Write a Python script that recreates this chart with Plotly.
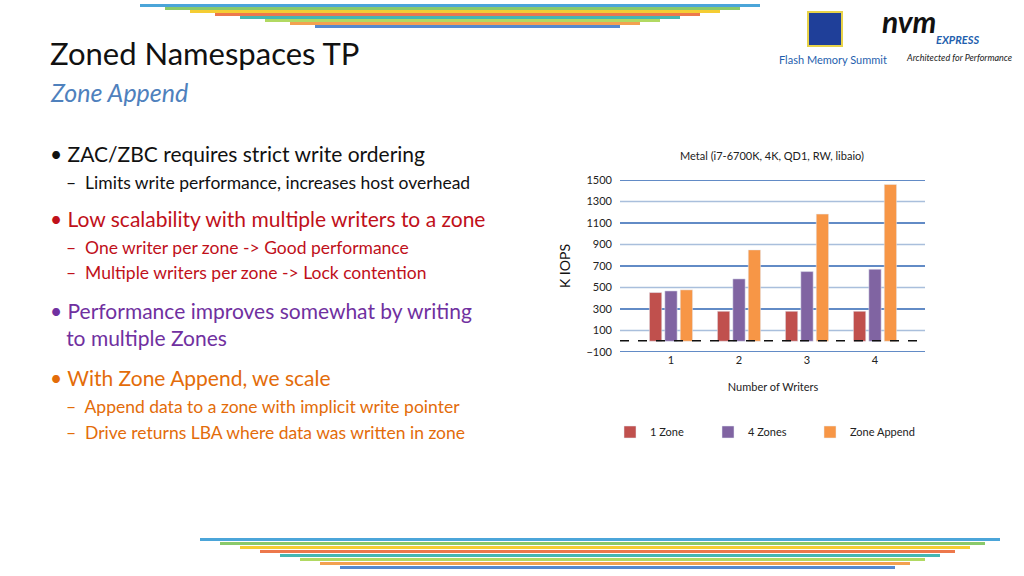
import plotly.graph_objects as go

writers = ["1", "2", "3", "4"]
one_zone = [453, 279, 279, 279]
four_zones = [468, 580, 648, 670]
zone_append = [478, 850, 1183, 1459]
tick_vals = [-100, 100, 300, 500, 700, 900, 1100, 1300, 1500]

F = "Lato, Open Sans, sans-serif"
fig = go.Figure()
legx = [610, 708, 810]
for j, (name, vals, col) in enumerate([("1 Zone", one_zone, "#c0504d"), ("4 Zones", four_zones, "#8064a2"), ("Zone Append", zone_append, "#f79646")]):
    lg = "legend" if j == 0 else f"legend{j+1}"
    fig.add_bar(x=writers, y=vals, name=name, marker_color=col, legend=lg)
    fig.update_layout({lg: dict(x=legx[j]/1024, y=(576-432)/576, yanchor="middle", xanchor="left",
                                font=dict(size=11), itemwidth=30, bgcolor="rgba(0,0,0,0)")})

PX0, PX1 = 620, 925
fig.update_layout(
    width=1024, height=576, paper_bgcolor="white", plot_bgcolor="white",
    margin=dict(l=0, r=0, t=0, b=0, autoexpand=False), barmode="group", bargap=0.32, bargroupgap=0.2,
    font=dict(family=F, size=11, color="#222"),
    xaxis=dict(domain=[637/1024, 909/1024], showline=False, ticks="", tickfont=dict(size=11), automargin=False,
               title=dict(text="Number of Writers", font=dict(size=11), standoff=18)),
    yaxis=dict(domain=[(576-352)/576, (576-180)/576], range=[-100, 1500], tickvals=tick_vals, automargin=False,
               showgrid=False, zeroline=False, tickfont=dict(size=11), ticklabelstandoff=24,
               title=dict(text="K IOPS", font=dict(size=14, color="#111"), standoff=12)),
    showlegend=True,
)
for i, v in enumerate(tick_vals):
    fig.add_shape(type="line", xref="paper", yref="y", x0=PX0/1024, x1=PX1/1024, y0=v, y1=v,
                  line=dict(color="#2e64b3" if i % 2 == 0 else "#a9bfdc", width=1.3), layer="below")
fig.add_shape(type="line", xref="paper", yref="y", x0=PX0/1024, x1=PX1/1024, y0=5, y1=5,
              line=dict(color="#111", width=1.5, dash="dash"))

ann = []
def t(x, y, s, size, color="#111", **kw):
    ann.append(dict(x=x/1024, y=1-y/576, xref="paper", yref="paper", text=s, showarrow=False,
                    xanchor="left", yanchor="middle", font=dict(size=size, color=color, family=F), **kw))

ann.append(dict(x=772/1024, y=1-156/576, xref="paper", yref="paper", text="Metal (i7-6700K, 4K, QD1, RW, libaio)",
                showarrow=False, xanchor="center", yanchor="middle", font=dict(size=11, color="#222", family=F)))
t(48, 53, "Zoned Namespaces TP", 31)
t(48, 92, "<i>Zone Append</i>", 25, "#4f81bd")
B, S = 21, 17.5
t(48, 153, "• ZAC/ZBC requires strict write ordering", B)
t(64, 182, "–  Limits write performance, increases host overhead", S)
red = "#c0101a"
t(48, 218, "• Low scalability with multiple writers to a zone", B, red)
t(64, 247, "–  One writer per zone -> Good performance", S, red)
t(64, 273, "–  Multiple writers per zone -> Lock contention", S, red)
pur = "#7030a0"
t(48, 324, "• Performance improves somewhat by writing<br>   to multiple Zones", B, pur, align="left")
org = "#e36c09"
t(48, 377, "• With Zone Append, we scale", B, org)
t(64, 406, "–  Append data to a zone with implicit write pointer", S, org)
t(64, 432, "–  Drive returns LBA where data was written in zone", S, org)
t(777, 60, "Flash Memory Summit", 11, "#1f5fae")
t(880, 21, "<b><i>nvm</i></b>", 30, "#111")
t(934, 39, "<b><i>EXPRESS</i></b>", 11, "#1f5fae")
t(904, 57, "<i>Architected for Performance</i>", 9, "#222")
fig.update_layout(annotations=ann)

fig.add_shape(type="rect", xref="paper", yref="paper", x0=808/1024, x1=842/1024, y0=1-46/576, y1=1-12/576,
              fillcolor="#1f3f99", line=dict(color="#e8d34a", width=2))
cols = ["#1e8fd0", "#6dbb45", "#f2c100", "#e9561f", "#17a5a0", "#9ecf3b", "#f08a24", "#2b6cc4"]
for k, c in enumerate(cols):
    fig.add_shape(type="rect", xref="paper", yref="paper", x0=(140 + 25*k)/1024, x1=(760 - 20*k)/1024,
                  y0=1-(4 + 3*k)/576, y1=1-(7 + 3*k)/576, fillcolor=c, line_width=0, opacity=0.8)
    fig.add_shape(type="rect", xref="paper", yref="paper", x0=(200 + 20*k)/1024, x1=(1000 - 15*k)/1024,
                  y0=1-(538 + 4*k)/576, y1=1-(541 + 4*k)/576, fillcolor=c, line_width=0, opacity=0.8)

fig.write_html("out.html", config={"displayModeBar": False},
               post_script="document.body.style.margin='0';document.body.style.overflow='hidden';")
